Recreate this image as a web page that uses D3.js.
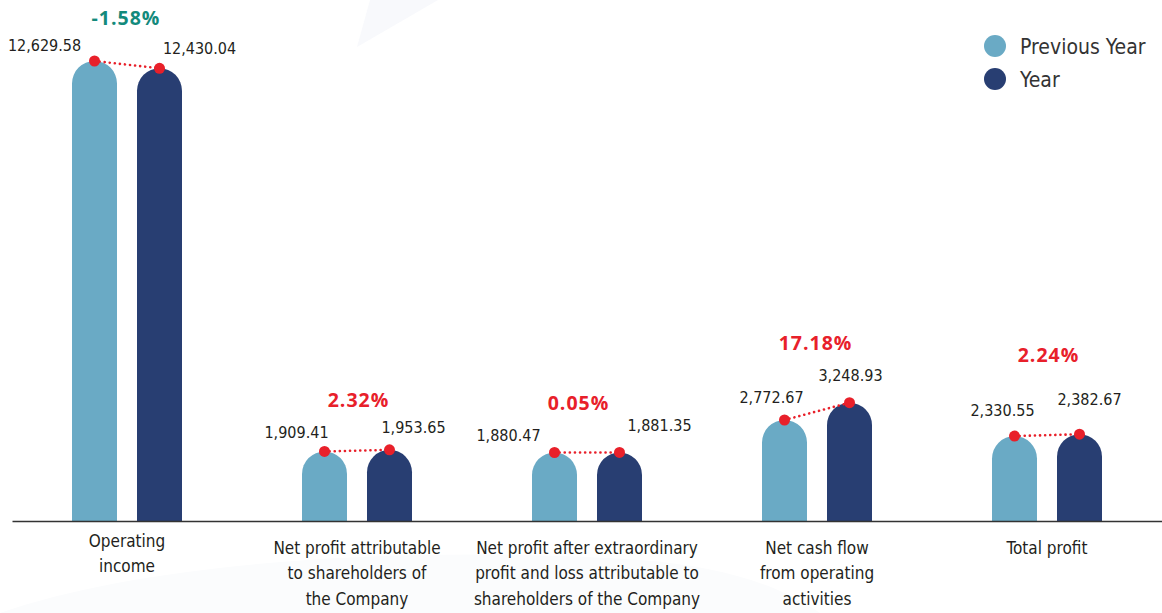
<!DOCTYPE html>
<html><head><meta charset="utf-8">
<script src="https://cdn.jsdelivr.net/npm/d3@7"></script>
<style>
html,body{margin:0;padding:0;background:#fff;}
svg{display:block;}
</style></head>
<body>
<svg id="chart" width="1162" height="613"></svg>
<script>
const categories = [
  ["Operating", "income"],
  ["Net profit attributable", "to shareholders of", "the Company"],
  ["Net profit after extraordinary", "profit and loss attributable to", "shareholders of the Company"],
  ["Net cash flow", "from operating", "activities"],
  ["Total profit"]
];
const previousYear = [12629.58, 1909.41, 1880.47, 2772.67, 2330.55];
const currentYear = [12430.04, 1953.65, 1881.35, 3248.93, 2382.67];
const seriesNames = ["Previous Year", "Year"];

// layout (label offsets), not data
const prevLabelDx = [-50, -28, -46, -13, -12];
const prevLabelDy = [-16, -19, -17, -23, -26];
const yearLabelDx = [40, 24, 40, 1, 10];
const yearLabelDy = [-20, -22, -27, -27, -35];
const pctDx = [-1, 1.5, -8.5, -1.5, 1.5];
const pctDy = [-43, -50, -49, -59, -79];
const catDy = [541, 548, 548, 548, 548];

const colors = ["#6aaac5", "#283e72"];
const red = "#e8202a", green = "#138a7c";
const narrow = "'DejaVu Sans Condensed', 'Liberation Sans Narrow', sans-serif";
const svg = d3.select("#chart");
const W = 1162, baseline = 521;

// faint background shapes
svg.append("path").attr("d", "M370,0 L438,0 L357,47 Z").attr("fill", "#f8f9fc");
svg.append("path").attr("d", "M0,613 C150,560 420,545 640,560 C720,566 780,585 820,613 Z").attr("fill", "#fbfcfd");

const keys = categories.map((c, i) => i);
const x0 = d3.scaleBand().domain(keys).range([12, W]).padding(0);
const x1 = d3.scaleBand().domain([0, 1]).range([-55, 55]).paddingInner(20 / 65).paddingOuter(0);
const y = d3.scaleLinear().domain([0, 13728]).range([baseline, 21]);

const fmt = d3.format(",.2f");
const bw = x1.bandwidth(), r = bw / 2;

function barPath(cx, v) {
  const top = y(v);
  const xl = cx - r, xr = cx + r;
  return `M${xl},${baseline} L${xl},${top + r} A${r},${r} 0 0 1 ${xr},${top + r} L${xr},${baseline} Z`;
}

const groups = svg.append("g").selectAll("g").data(keys).join("g");
groups.each(function (i) {
  const g = d3.select(this);
  const c = x0(i) + x0.bandwidth() / 2;
  const vals = [previousYear[i], currentYear[i]];
  const cxs = [0, 1].map(k => c + x1(k) + bw / 2);
  vals.forEach((v, k) => {
    g.append("path").attr("d", barPath(cxs[k], v)).attr("fill", colors[k]);
  });
  g.append("line")
    .attr("x1", cxs[0]).attr("y1", y(vals[0]))
    .attr("x2", cxs[1]).attr("y2", y(vals[1]))
    .attr("stroke", red).attr("stroke-width", 2.6)
    .attr("stroke-dasharray", "0.1,5").attr("stroke-linecap", "round");
  vals.forEach((v, k) => {
    g.append("circle").attr("cx", cxs[k]).attr("cy", y(v)).attr("r", 5.5).attr("fill", red);
  });
  g.append("text").attr("x", cxs[0] + prevLabelDx[i]).attr("y", y(vals[0]) + prevLabelDy[i])
    .attr("dy", "0.35em").attr("text-anchor", "middle").attr("class", "val").text(fmt(vals[0]));
  g.append("text").attr("x", cxs[1] + yearLabelDx[i]).attr("y", y(vals[1]) + yearLabelDy[i])
    .attr("dy", "0.35em").attr("text-anchor", "middle").attr("class", "val").text(fmt(vals[1]));
  const pct = (vals[1] - vals[0]) / vals[0] * 100;
  g.append("text").attr("x", c + pctDx[i]).attr("y", Math.min(y(vals[0]), y(vals[1])) + pctDy[i])
    .attr("dy", "0.35em").attr("text-anchor", "middle")
    .attr("font-family", "'Open Sans', sans-serif").attr("font-weight", 700).attr("font-size", 19.5)
    .attr("letter-spacing", "1px")
    .attr("fill", pct < 0 ? green : red).text(pct.toFixed(2) + "%");
  const t = g.append("text").attr("text-anchor", "middle").attr("class", "cat");
  categories[i].forEach((line, j) => {
    t.append("tspan").attr("x", c).attr("y", catDy[i] + j * 25.5).attr("dy", "0.35em").text(line);
  });
});

svg.selectAll("text.val").attr("font-family", narrow).attr("font-size", 16).attr("fill", "#231f20");
svg.selectAll("text.cat").attr("font-family", narrow).attr("font-size", 17).attr("fill", "#231f20");

svg.append("g").attr("transform", `translate(0,${baseline})`)
  .call(d3.axisBottom(x0).tickSize(0).tickFormat(""))
  .call(a => a.select(".domain").attr("stroke", "#333").attr("stroke-width", 1.5));

const leg = svg.append("g");
seriesNames.forEach((n, k) => {
  leg.append("circle").attr("cx", 995).attr("cy", 46 + k * 33).attr("r", 11).attr("fill", colors[k]);
  leg.append("text").attr("x", 1020).attr("y", 47 + k * 33).attr("dy", "0.35em")
    .attr("font-family", narrow).attr("font-size", 21).attr("fill", "#333").text(n);
});
</script>
</body></html>
